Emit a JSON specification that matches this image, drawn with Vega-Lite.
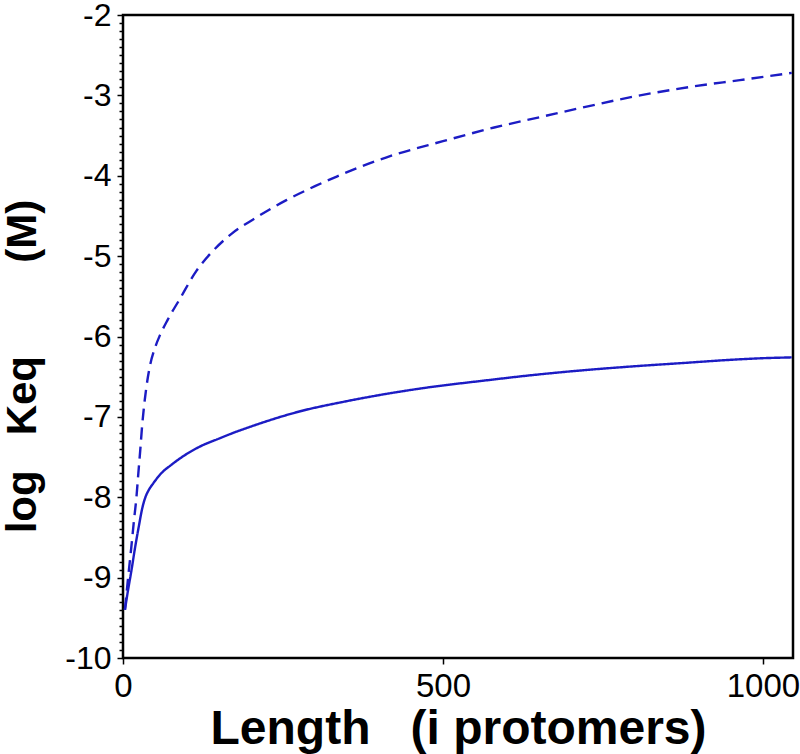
{
  "$schema": "https://vega.github.io/schema/vega-lite/v6.json",
  "width": 670,
  "height": 643,
  "autosize": {"type": "none"},
  "padding": {"left": 123, "top": 15, "right": 7, "bottom": 96},
  "background": "white",
  "view": {"stroke": "black", "strokeWidth": 2.5},
  "config": {
    "font": "Liberation Sans",
    "axis": {"domain": false, "grid": false, "tickColor": "black", "labelColor": "black", "titleColor": "black"}
  },
  "data": {
    "values": [
      {"i": 3, "logK": -9.4, "model": "solid"},
      {"i": 8, "logK": -9.15, "model": "solid"},
      {"i": 13, "logK": -8.92, "model": "solid"},
      {"i": 19, "logK": -8.62, "model": "solid"},
      {"i": 25, "logK": -8.35, "model": "solid"},
      {"i": 30, "logK": -8.14, "model": "solid"},
      {"i": 35, "logK": -8.0, "model": "solid"},
      {"i": 41, "logK": -7.9, "model": "solid"},
      {"i": 47, "logK": -7.83, "model": "solid"},
      {"i": 60, "logK": -7.7, "model": "solid"},
      {"i": 75, "logK": -7.6, "model": "solid"},
      {"i": 94, "logK": -7.49, "model": "solid"},
      {"i": 120, "logK": -7.37, "model": "solid"},
      {"i": 150, "logK": -7.27, "model": "solid"},
      {"i": 172, "logK": -7.2, "model": "solid"},
      {"i": 200, "logK": -7.12, "model": "solid"},
      {"i": 230, "logK": -7.04, "model": "solid"},
      {"i": 277, "logK": -6.93, "model": "solid"},
      {"i": 340, "logK": -6.82, "model": "solid"},
      {"i": 407, "logK": -6.72, "model": "solid"},
      {"i": 480, "logK": -6.63, "model": "solid"},
      {"i": 563, "logK": -6.55, "model": "solid"},
      {"i": 640, "logK": -6.48, "model": "solid"},
      {"i": 719, "logK": -6.42, "model": "solid"},
      {"i": 800, "logK": -6.37, "model": "solid"},
      {"i": 875, "logK": -6.33, "model": "solid"},
      {"i": 950, "logK": -6.29, "model": "solid"},
      {"i": 1000, "logK": -6.27, "model": "solid"},
      {"i": 1045, "logK": -6.26, "model": "solid"},
      {"i": 3, "logK": -9.4, "model": "dashed"},
      {"i": 8, "logK": -9.0, "model": "dashed"},
      {"i": 13, "logK": -8.62, "model": "dashed"},
      {"i": 17, "logK": -8.3, "model": "dashed"},
      {"i": 21, "logK": -8.0, "model": "dashed"},
      {"i": 24, "logK": -7.7, "model": "dashed"},
      {"i": 27, "logK": -7.41, "model": "dashed"},
      {"i": 30, "logK": -7.1, "model": "dashed"},
      {"i": 34, "logK": -6.79, "model": "dashed"},
      {"i": 38, "logK": -6.55, "model": "dashed"},
      {"i": 42, "logK": -6.37, "model": "dashed"},
      {"i": 50, "logK": -6.14, "model": "dashed"},
      {"i": 58, "logK": -5.98, "model": "dashed"},
      {"i": 70, "logK": -5.79, "model": "dashed"},
      {"i": 89, "logK": -5.53, "model": "dashed"},
      {"i": 115, "logK": -5.18, "model": "dashed"},
      {"i": 140, "logK": -4.94, "model": "dashed"},
      {"i": 170, "logK": -4.72, "model": "dashed"},
      {"i": 204, "logK": -4.54, "model": "dashed"},
      {"i": 256, "logK": -4.3, "model": "dashed"},
      {"i": 300, "logK": -4.13, "model": "dashed"},
      {"i": 334, "logK": -4.01, "model": "dashed"},
      {"i": 412, "logK": -3.77, "model": "dashed"},
      {"i": 500, "logK": -3.57, "model": "dashed"},
      {"i": 580, "logK": -3.4, "model": "dashed"},
      {"i": 652, "logK": -3.27, "model": "dashed"},
      {"i": 730, "logK": -3.13, "model": "dashed"},
      {"i": 808, "logK": -3.0, "model": "dashed"},
      {"i": 890, "logK": -2.89, "model": "dashed"},
      {"i": 964, "logK": -2.81, "model": "dashed"},
      {"i": 1045, "logK": -2.72, "model": "dashed"}
    ]
  },
  "mark": {"type": "line", "color": "#1c1cc4", "strokeWidth": 2.4, "clip": true, "interpolate": "monotone"},
  "encoding": {
    "x": {
      "field": "i",
      "type": "quantitative",
      "scale": {"domain": [0, 1047], "nice": false, "zero": false},
      "axis": {
        "values": [0, 500, 1000],
        "labelFlush": false,
        "labelOverlap": false,
        "labelExpr": "'' + datum.value",
        "labelFontSize": 33,
        "labelPadding": 6,
        "tickSize": 6,
        "tickWidth": 1.5,
        "title": "Length\u00a0\u00a0\u00a0(i protomers)",
        "titleFontSize": 48,
        "titleFontWeight": "bold",
        "titlePadding": 2
      }
    },
    "y": {
      "field": "logK",
      "type": "quantitative",
      "scale": {"domain": [-10, -2], "nice": false, "zero": false},
      "axis": {
        "values": [-10, -9.9, -9.8, -9.7, -9.6, -9.5, -9.4, -9.3, -9.2, -9.1, -9, -8.9, -8.8, -8.7, -8.6, -8.5, -8.4, -8.3, -8.2, -8.1, -8, -7.9, -7.8, -7.7, -7.6, -7.5, -7.4, -7.3, -7.2, -7.1, -7, -6.9, -6.8, -6.7, -6.6, -6.5, -6.4, -6.3, -6.2, -6.1, -6, -5.9, -5.8, -5.7, -5.6, -5.5, -5.4, -5.3, -5.2, -5.1, -5, -4.9, -4.8, -4.7, -4.6, -4.5, -4.4, -4.3, -4.2, -4.1, -4, -3.9, -3.8, -3.7, -3.6, -3.5, -3.4, -3.3, -3.2, -3.1, -3, -2.9, -2.8, -2.7, -2.6, -2.5, -2.4, -2.3, -2.2, -2.1, -2],
        "labelFlush": false,
        "labelOverlap": false,
        "labelExpr": "abs(datum.value - round(datum.value)) < 0.001 ? '' + round(datum.value) : ''",
        "labelFontSize": 32,
        "labelPadding": 6,
        "tickSize": {"condition": {"test": "abs(datum.value - round(datum.value)) < 0.001", "value": 6}, "value": 4},
        "tickWidth": 1.5,
        "title": "log\u00a0\u00a0\u00a0Keq\u00a0\u00a0\u00a0\u00a0\u00a0\u00a0\u00a0\u00a0(M)",
        "titleFontSize": 42,
        "titleFontWeight": "bold",
        "titlePadding": 20,
        "titleY": 351
      }
    },
    "strokeDash": {
      "field": "model",
      "type": "nominal",
      "scale": {"domain": ["solid", "dashed"], "range": [[1, 0], [12, 7]]},
      "legend": null
    }
  }
}
